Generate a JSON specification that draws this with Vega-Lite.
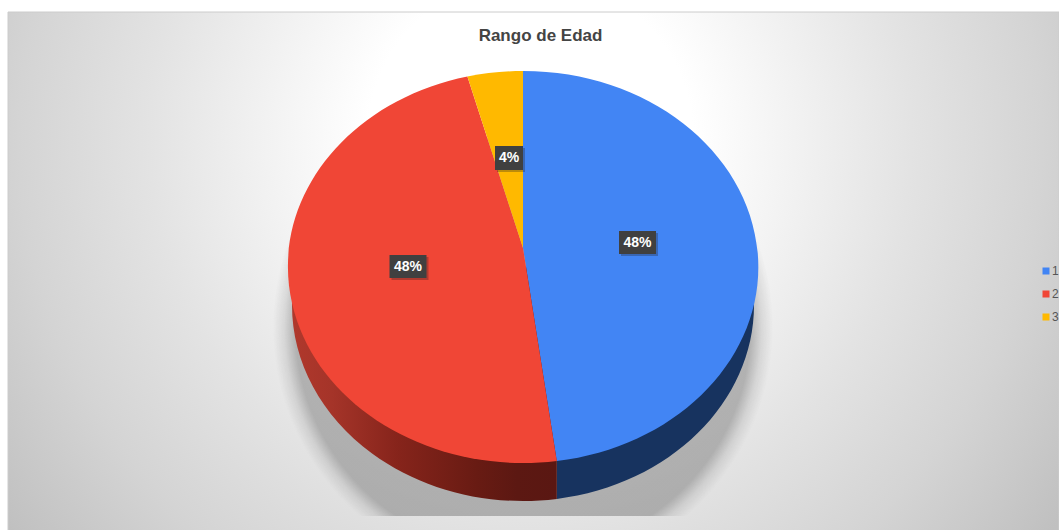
{
  "$schema": "https://vega.github.io/schema/vega-lite/v6.json",
  "width": 1059,
  "height": 530,
  "autosize": "none",
  "padding": 0,
  "background": "#ffffff",
  "view": {"stroke": null},
  "title": {
    "text": "Rango de Edad",
    "anchor": "middle",
    "dx": 11,
    "offset": -58,
    "baseline": "alphabetic",
    "font": "Liberation Sans",
    "fontSize": 17,
    "fontWeight": "bold",
    "color": "#444444"
  },
  "data": {
    "values": [
      {"rango": "1", "share": 0.478},
      {"rango": "2", "share": 0.484},
      {"rango": "3", "share": 0.038}
    ]
  },
  "encoding": {
    "x": {"datum": 0, "type": "quantitative", "axis": null, "scale": {"domain": [-523, 536], "range": [0, 1059]}},
    "y": {"datum": 0, "type": "quantitative", "axis": null, "scale": {"domain": [-267, 263], "range": [0, 530]}}
  },
  "layer": [
    {
      "data": {"values": [{"panel": "fondo"}]},
      "mark": {
        "type": "point",
        "filled": true,
        "opacity": 1,
        "stroke": "#cccccc",
        "strokeWidth": 1,
        "fill": {
          "gradient": "radial",
          "x1": 0.497, "y1": 0.121, "r1": 0,
          "x2": 0.497, "y2": 0.121, "r2": 0.62,
          "stops": [
            {"offset": 0, "color": "#ffffff"},
            {"offset": 0.25, "color": "#ffffff"},
            {"offset": 0.585, "color": "#e3e3e3"},
            {"offset": 0.785, "color": "#d4d4d4"},
            {"offset": 1, "color": "#c0c0c0"}
          ]
        }
      },
      "encoding": {
        "shape": {"value": "M-515,-255H536V796H-515Z"},
        "size": {"value": 4}
      }
    },
    {
      "data": {"values": [{"panel": "sombra"}]},
      "mark": {
        "type": "point",
        "filled": true,
        "opacity": 1,
        "fill": {
          "gradient": "radial",
          "x1": 0.5, "y1": 0.5, "r1": 0,
          "x2": 0.5, "y2": 0.5, "r2": 0.5,
          "stops": [
            {"offset": 0, "color": "rgba(130,130,130,0.55)"},
            {"offset": 0.91, "color": "rgba(130,130,130,0.55)"},
            {"offset": 0.955, "color": "rgba(130,130,130,0.2)"},
            {"offset": 1, "color": "rgba(130,130,130,0)"}
          ]
        }
      },
      "encoding": {
        "shape": {"value": "M-250,-129H250V249H-250Z"},
        "size": {"value": 4}
      }
    },
    {
      "transform": [{"filter": "datum.rango === '1'"}],
      "mark": {"type": "point", "filled": true, "opacity": 1, "fill": "#17335f"},
      "encoding": {
        "shape": {"value": "M33.8,0H231V38A231,196 0 0 1 33.8,231.9Z"},
        "size": {"value": 4}
      }
    },
    {
      "transform": [{"filter": "datum.rango === '2'"}],
      "mark": {
        "type": "point",
        "filled": true,
        "opacity": 1,
        "fill": {
          "gradient": "linear",
          "x1": 0, "y1": 0, "x2": 1, "y2": 0,
          "stops": [
            {"offset": 0, "color": "#b0382c"},
            {"offset": 0.15, "color": "#a53429"},
            {"offset": 0.4, "color": "#86241b"},
            {"offset": 0.7, "color": "#681b13"},
            {"offset": 0.85, "color": "#5c1812"},
            {"offset": 1, "color": "#5a1712"}
          ]
        }
      },
      "encoding": {
        "shape": {"value": "M33.8,0H-231V38A231,196 0 0 0 33.8,231.9Z"},
        "size": {"value": 4}
      }
    },
    {
      "mark": {"type": "point", "filled": true, "opacity": 1},
      "encoding": {
        "fill": {
          "field": "rango",
          "type": "nominal",
          "scale": {"domain": ["1", "2", "3"], "range": ["#4285f4", "#f04636", "#ffb900"]},
          "legend": {
            "title": null,
            "orient": "none",
            "legendX": 1040,
            "legendY": 265,
            "symbolType": "square",
            "symbolSize": 49,
            "symbolStrokeWidth": 0,
            "labelFont": "Liberation Sans",
            "labelFontSize": 12,
            "labelColor": "#555555",
            "labelOffset": 0,
            "rowPadding": 11,
            "padding": 0
          }
        },
        "shape": {
          "field": "rango",
          "type": "nominal",
          "legend": null,
          "scale": {
            "domain": ["3", "2", "1"],
            "range": [
              "M0,-19L-55.6,-190.4A235,196 0 0 1 0,-196Z",
              "M0,-19L33.8,194A235,196 0 0 1 -55.6,-190.4Z",
              "M0,-19L0,-196A235,196 0 0 1 33.8,194Z"
            ]
          }
        },
        "size": {"value": 4}
      }
    },
    {
      "transform": [{"filter": "datum.rango === '1'"}],
      "encoding": {
        "x": {"datum": 114.5, "type": "quantitative", "axis": null, "scale": {"domain": [-523, 536], "range": [0, 1059]}},
        "y": {"datum": -24.5, "type": "quantitative", "axis": null, "scale": {"domain": [-267, 263], "range": [0, 530]}}
      },
      "layer": [
        {
          "mark": {"type": "point", "filled": true, "opacity": 0.3, "fill": "#222222", "xOffset": 2, "yOffset": 2},
          "encoding": {"shape": {"value": "M-18.5,-11.5H18.5V11.5H-18.5Z"}, "size": {"value": 4}}
        },
        {
          "mark": {"type": "point", "filled": true, "opacity": 1, "fill": "#404040"},
          "encoding": {"shape": {"value": "M-18.5,-11.5H18.5V11.5H-18.5Z"}, "size": {"value": 4}}
        },
        {
          "mark": {"type": "text", "font": "Liberation Sans", "fontSize": 14, "fontWeight": "bold", "fill": "#ffffff", "align": "center", "baseline": "middle"},
          "encoding": {"text": {"field": "share", "type": "quantitative", "format": ".0%"}}
        }
      ]
    },
    {
      "transform": [{"filter": "datum.rango === '2'"}],
      "encoding": {
        "x": {"datum": -115, "type": "quantitative", "axis": null, "scale": {"domain": [-523, 536], "range": [0, 1059]}},
        "y": {"datum": -0.5, "type": "quantitative", "axis": null, "scale": {"domain": [-267, 263], "range": [0, 530]}}
      },
      "layer": [
        {
          "mark": {"type": "point", "filled": true, "opacity": 0.3, "fill": "#222222", "xOffset": 2, "yOffset": 2},
          "encoding": {"shape": {"value": "M-18.5,-11.5H18.5V11.5H-18.5Z"}, "size": {"value": 4}}
        },
        {
          "mark": {"type": "point", "filled": true, "opacity": 1, "fill": "#404040"},
          "encoding": {"shape": {"value": "M-18.5,-11.5H18.5V11.5H-18.5Z"}, "size": {"value": 4}}
        },
        {
          "mark": {"type": "text", "font": "Liberation Sans", "fontSize": 14, "fontWeight": "bold", "fill": "#ffffff", "align": "center", "baseline": "middle"},
          "encoding": {"text": {"field": "share", "type": "quantitative", "format": ".0%"}}
        }
      ]
    },
    {
      "transform": [{"filter": "datum.rango === '3'"}],
      "encoding": {
        "x": {"datum": -14, "type": "quantitative", "axis": null, "scale": {"domain": [-523, 536], "range": [0, 1059]}},
        "y": {"datum": -109, "type": "quantitative", "axis": null, "scale": {"domain": [-267, 263], "range": [0, 530]}}
      },
      "layer": [
        {
          "mark": {"type": "point", "filled": true, "opacity": 0.3, "fill": "#222222", "xOffset": 2, "yOffset": 2},
          "encoding": {"shape": {"value": "M-14,-12H14V12H-14Z"}, "size": {"value": 4}}
        },
        {
          "mark": {"type": "point", "filled": true, "opacity": 1, "fill": "#404040"},
          "encoding": {"shape": {"value": "M-14,-12H14V12H-14Z"}, "size": {"value": 4}}
        },
        {
          "mark": {"type": "text", "font": "Liberation Sans", "fontSize": 14, "fontWeight": "bold", "fill": "#ffffff", "align": "center", "baseline": "middle"},
          "encoding": {"text": {"field": "share", "type": "quantitative", "format": ".0%"}}
        }
      ]
    }
  ]
}
